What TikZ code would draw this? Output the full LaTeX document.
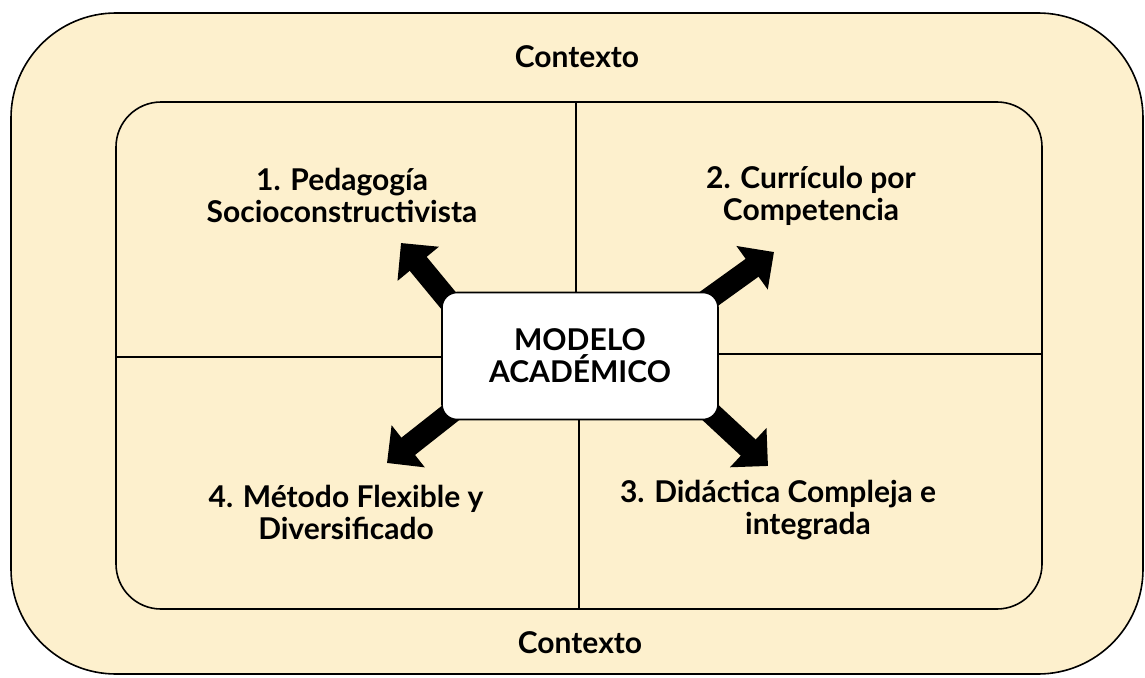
\documentclass[tikz,border=0pt]{standalone}
\usepackage{fontspec}
\setmainfont{Lato}
\usetikzlibrary{arrows.meta,backgrounds}
\definecolor{crema}{HTML}{FDF0CD}

\begin{document}
\begin{tikzpicture}[x=1pt,y=-1pt,
  marco/.style={draw=black,line width=1.6pt},
  texto/.style={align=center,font=\fontsize{30}{32}\selectfont\bfseries},
  flecha/.style={line width=22pt,shorten <=-20pt,-{Triangle[width=52pt,length=27pt]}}]
\useasboundingbox (0,0) rectangle (1145,677);
\node[texto,marco,fill=white,rounded corners=15pt,minimum width=276pt,minimum height=127pt] (modelo) at (580,356) {MODELO\\ACADÉMICO};
\node[texto] (contextoA) at (577,57) {Contexto};
\node[texto] (contextoB) at (580,643) {Contexto};
\node[texto] (pedagogia) at (342,195) {1. Pedagogía\\Socioconstructivista};
\node[texto] (curriculo) at (811,196) {2. Currículo por\\Competencia};
\node[texto] (didactica) at (808,510) {3. Didáctica Compleja e\hspace*{60pt}\\integrada};
\node[texto] (metodo) at (346,512) {4. Método Flexible y\\Diversificado};
% puntas de las flechas
\coordinate (tipA) at (401,243);
\coordinate (tipB) at (774,252);
\coordinate (tipC) at (768,466);
\coordinate (tipD) at (387,463);
\begin{pgfonlayer}{background}
\draw[marco,fill=crema,rounded corners=105pt] (11,13) rectangle (1143,674);
\draw[marco,rounded corners=45pt] (116,102) rectangle (1042,609);
\draw[marco] (576,102) -- (576,102 |- modelo.north);
\draw[marco] (579,609) -- (579,609 |- modelo.south);
\draw[marco] (116,357) -- (modelo.west |- 0,357);
\draw[marco] (1042,354) -- (modelo.east |- 0,354);
\draw[flecha] (modelo.north west) -- (tipA);
\draw[flecha] (modelo.north east) -- (tipB);
\draw[flecha] (modelo.south east) -- (tipC);
\draw[flecha] (modelo.south west) -- (tipD);
\end{pgfonlayer}
\end{tikzpicture}
\end{document}
